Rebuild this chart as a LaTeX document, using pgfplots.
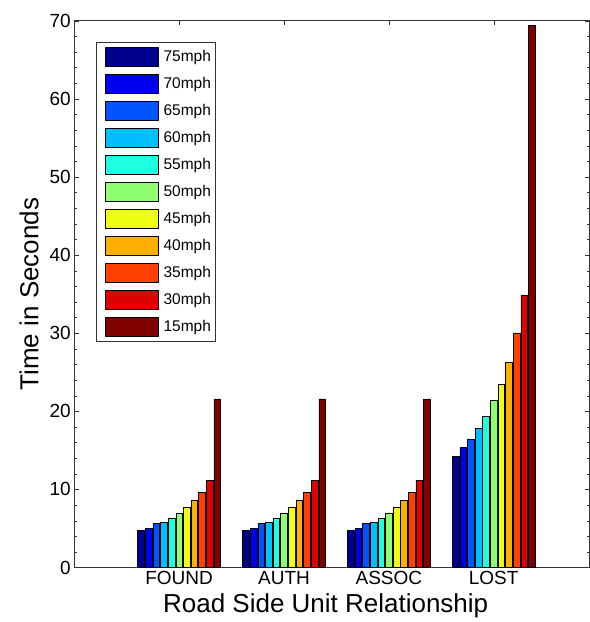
\documentclass[border=0pt]{standalone}
\usepackage{pgfplots}
\pgfplotsset{compat=1.18}
\usepackage{fontspec}
\setmainfont{Liberation Sans}
\definecolor{c75}{RGB}{0,0,143}
\definecolor{c70}{RGB}{0,0,238}
\definecolor{c65}{RGB}{0,85,255}
\definecolor{c60}{RGB}{0,191,255}
\definecolor{c55}{RGB}{31,255,223}
\definecolor{c50}{RGB}{143,255,111}
\definecolor{c45}{RGB}{239,255,16}
\definecolor{c40}{RGB}{255,175,0}
\definecolor{c35}{RGB}{255,64,0}
\definecolor{c30}{RGB}{223,0,0}
\definecolor{c15}{RGB}{128,0,0}
\begin{document}
\begin{tikzpicture}
\begin{axis}[
  at={(0,0)}, anchor=south west,
  width=515pt, height=547pt, scale only axis,
  xmin=0, xmax=4.91, ymin=0, ymax=70,
  xtick={1,2,3,4}, xticklabels={FOUND,AUTH,ASSOC,LOST},
  ytick={0,10,...,70},
  minor y tick num=4,
  tick align=inside,
  xtick pos=both, ytick pos=both,
  major tick length=4.5pt, minor tick length=2.5pt,
  axis line style={black!80},
  tick style={black!80},
  tick label style={font=\fontsize{19}{19}\selectfont},
  /pgf/number format/assume math mode=true,
  xlabel={Road Side Unit Relationship}, ylabel={Time in Seconds},
  label style={font=\fontsize{26}{26}\selectfont},
  xlabel style={xshift=-6pt}, xlabel shift=2pt, ylabel shift=4pt,
  legend style={at={(0.042,0.961)}, anchor=north west,
    font=\fontsize{15.5}{15.5}\selectfont, draw=black!80,
    inner xsep=2pt, inner ysep=5pt, row sep=7.5pt, column sep=3pt,
    nodes={inner sep=2pt}},
  legend cell align=left,
  legend image code/.code={\path (0pt,0pt); \draw[#1] (7pt,-9.5pt) rectangle (60pt,9.5pt);},
  every axis plot/.append style={draw=black, line width=0.5pt, bar width=0.064},
]
\addplot[ybar, fill=c75, bar shift=-0.3636] coordinates {(1,4.71) (2,4.71) (3,4.71) (4,14.27)};
\addplot[ybar, fill=c70, bar shift=-0.2909] coordinates {(1,5.02) (2,5.02) (3,5.02) (4,15.36)};
\addplot[ybar, fill=c65, bar shift=-0.2182] coordinates {(1,5.66) (2,5.66) (3,5.66) (4,16.44)};
\addplot[ybar, fill=c60, bar shift=-0.1455] coordinates {(1,5.82) (2,5.82) (3,5.82) (4,17.81)};
\addplot[ybar, fill=c55, bar shift=-0.0727] coordinates {(1,6.37) (2,6.37) (3,6.37) (4,19.32)};
\addplot[ybar, fill=c50, bar shift=0] coordinates {(1,6.89) (2,6.89) (3,6.89) (4,21.36)};
\addplot[ybar, fill=c45, bar shift=0.0727] coordinates {(1,7.70) (2,7.70) (3,7.70) (4,23.48)};
\addplot[ybar, fill=c40, bar shift=0.1455] coordinates {(1,8.55) (2,8.55) (3,8.55) (4,26.31)};
\addplot[ybar, fill=c35, bar shift=0.2182] coordinates {(1,9.62) (2,9.62) (3,9.62) (4,30.04)};
\addplot[ybar, fill=c30, bar shift=0.2909] coordinates {(1,11.16) (2,11.16) (3,11.16) (4,34.90)};
\addplot[ybar, fill=c15, bar shift=0.3636] coordinates {(1,21.6) (2,21.6) (3,21.6) (4,69.4)};
\legend{75mph,70mph,65mph,60mph,55mph,50mph,45mph,40mph,35mph,30mph,15mph}
\end{axis}
\pgfresetboundingbox
\useasboundingbox (-74.3pt,-54.5pt) rectangle (515.7pt,567.7pt);
\end{tikzpicture}
\end{document}
